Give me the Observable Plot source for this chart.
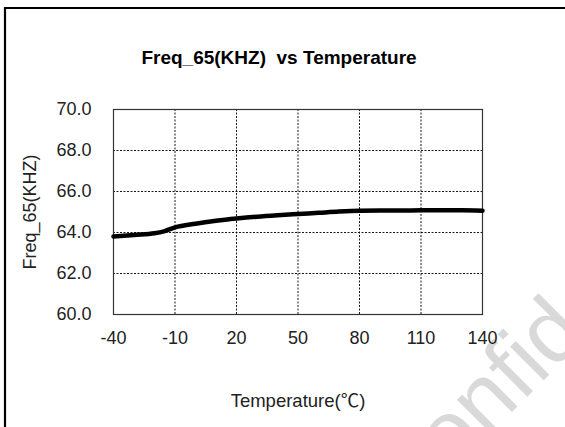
<!DOCTYPE html>
<html>
<head>
<meta charset="utf-8">
<script src="https://cdn.jsdelivr.net/npm/d3@7"></script>
<script src="https://cdn.jsdelivr.net/npm/@observablehq/plot@0.6"></script>
<style>
  html, body { margin: 0; padding: 0; background: white; overflow: hidden; }
  #chart { width: 565px; height: 427px; overflow: hidden; }
  #chart svg { max-width: none !important; display: block; }
  svg text { white-space: pre; }
</style>
</head>
<body>
<div id="chart"></div>
<script>
// Data
const temperatures = [-40, -30, -20, -15, -10, 0, 10, 20, 30, 40, 50, 60, 70, 80, 90, 100, 110, 120, 130, 140];
const freqKHz = [63.80, 63.88, 63.96, 64.07, 64.25, 64.43, 64.57, 64.68, 64.77, 64.84, 64.90, 64.96, 65.02, 65.06, 65.07, 65.07, 65.08, 65.08, 65.08, 65.06];
const xTicks = [-40, -10, 20, 50, 80, 110, 140];
const yTicks = [60, 62, 64, 66, 68, 70];
const titleText = "Freq_65(KHZ)  vs Temperature";
const xLabel = "Temperature(℃)";
const yLabel = "Freq_65(KHZ)";
const watermark = "Confidential";

const data = temperatures.map((t, i) => ({t, f: freqKHz[i]}));
const font = "'Liberation Sans', Arial, 'Noto Sans CJK SC', sans-serif";

const chart = Plot.plot({
  width: 565,
  height: 427,
  marginLeft: 113,
  marginRight: 83,
  marginTop: 109,
  marginBottom: 113,
  style: {fontFamily: font, fontSize: "18px", background: "white", color: "black", overflow: "hidden"},
  x: {domain: [-40, 140]},
  y: {domain: [60, 70]},
  marks: [
    Plot.gridX(xTicks, {stroke: "black", strokeOpacity: 0.9, strokeWidth: 1, strokeDasharray: "2,1.5"}),
    Plot.gridY(yTicks, {stroke: "black", strokeOpacity: 0.9, strokeWidth: 1, strokeDasharray: "2,1.5"}),
    Plot.frame({stroke: "#333", strokeWidth: 1.2}),
    Plot.line(data, {x: "t", y: "f", stroke: "black", strokeWidth: 4.5, curve: "monotone-x"}),
    Plot.axisX(xTicks, {tickSize: 0, tickPadding: 17, label: null, fontSize: 18, fill: "#222", tickFormat: d => String(d)}),
    Plot.axisY(yTicks, {tickSize: 0, tickPadding: 22, label: null, fontSize: 18, fill: "#222", tickFormat: d => d.toFixed(1)}),
    Plot.text([titleText], {frameAnchor: "top", dx: -19, dy: -59, fontSize: 19, fontWeight: "bold", fill: "black", textAnchor: "middle"}),
    Plot.text([yLabel], {frameAnchor: "left", rotate: -90, dx: -83, fontSize: 18, fill: "#222", textAnchor: "middle"}),
    Plot.text([xLabel], {frameAnchor: "bottom", dy: 92, fontSize: 18.5, fill: "#222", textAnchor: "middle"})
  ]
});

const svg = d3.select(chart);
// watermark behind everything
svg.insert("text", ":first-child")
  .attr("transform", "translate(405,519) rotate(-45)")
  .attr("text-anchor", "start")
  .attr("font-size", 90)
  .attr("font-family", font)
  .attr("fill", "#d9d9d9")
  .text(watermark);
// outer chart border (only left and top edges are inside the picture)
svg.append("path")
  .attr("d", "M5,700V8H565")
  .attr("fill", "none").attr("stroke", "black").attr("stroke-width", 2.2);

document.getElementById("chart").appendChild(chart);
</script>
</body>
</html>
